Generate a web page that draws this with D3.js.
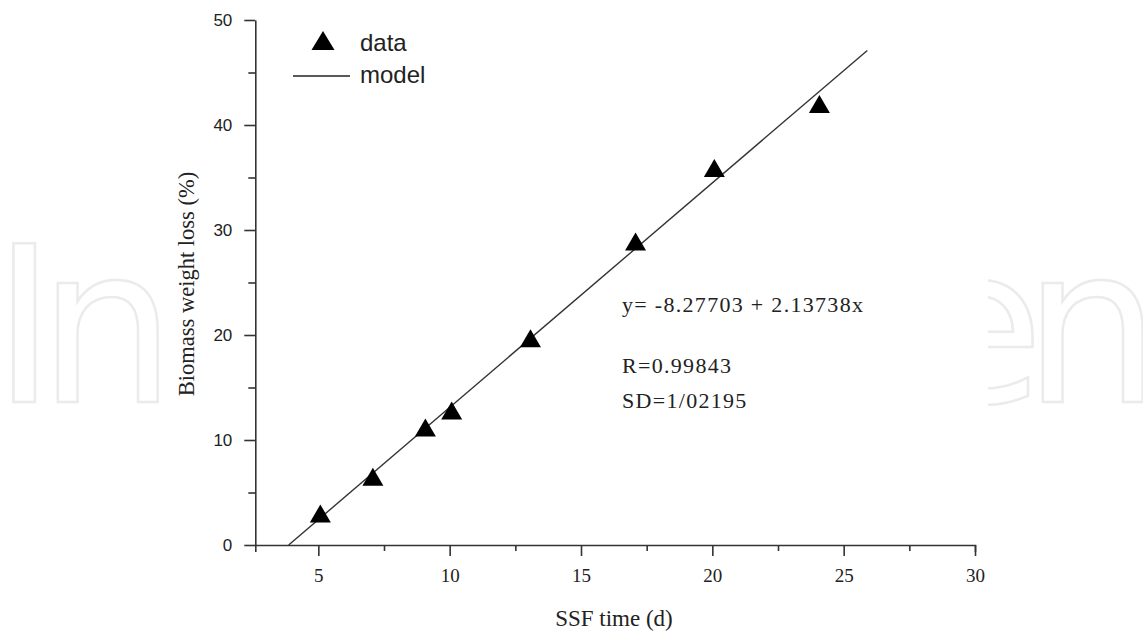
<!DOCTYPE html>
<html><head><meta charset="utf-8">
<script src="https://cdn.jsdelivr.net/npm/d3@7"></script>
<style>body{margin:0;background:#fff}</style>
</head><body><svg id="c" width="1143" height="638"></svg>
<script>
// ---- data ----
const days = [5, 7, 9, 10, 13, 17, 20, 24];
const weightLoss = [3.0, 6.5, 11.2, 12.8, 19.7, 28.9, 35.9, 42.0];
const modelDays = [3.87, 25.9];
const modelLoss = [0, 47.1];
const xMajorTicks = [5, 10, 15, 20, 25, 30];
const xMinorTicks = [7.5, 12.5, 17.5, 22.5, 27.5];
const yMajorTicks = [0, 10, 20, 30, 40, 50];
const yMinorTicks = [5, 15, 25, 35, 45];
const legendLabels = ["data", "model"];
const annotations = ["y= -8.27703 + 2.13738x", "R=0.99843", "SD=1/02195"];
const xTitle = "SSF time (d)";
const yTitle = "Biomass weight loss (%)";
const watermarkLeft = "In";
const watermarkRight = "en";

const svg = d3.select("#c");
svg.append("rect").attr("width", 1143).attr("height", 638).attr("fill", "#fff");

// ---- watermark (partly hidden behind the chart panel) ----
const wm = svg.append("g").attr("font-family", "DejaVu Sans").attr("font-weight", 400)
  .attr("font-size", 218).attr("fill", "none").attr("stroke", "#ebebeb").attr("stroke-width", 2.5);
wm.append("text").attr("x", "-8 38").attr("y", 402).text(watermarkLeft);
wm.append("text").attr("x", "910 1023").attr("y", 402).text(watermarkRight);
svg.append("rect").attr("x", 167).attr("y", 0).attr("width", 821).attr("height", 638).attr("fill", "#fff");

// ---- scales ----
const x = d3.scaleLinear().domain([2.6, 30]).range([255.3, 975]);
const y = d3.scaleLinear().domain([0, 50]).range([545, 20]);
const axisColor = "#333";

// x axis
const gx = svg.append("g").attr("transform", `translate(0,${y(0)})`)
  .call(d3.axisBottom(x).tickValues(xMajorTicks).tickSize(11).tickSizeOuter(7).tickPadding(12.5).tickFormat(d3.format("d")));
gx.append("g").call(d3.axisBottom(x).tickValues(xMinorTicks).tickSize(6).tickFormat(""))
  .select(".domain").remove();
gx.selectAll("path,line").attr("stroke", axisColor).attr("stroke-width", 1.6);
gx.selectAll("text").attr("font-family", "Liberation Serif, Times New Roman, serif").attr("font-size", 19).attr("fill", "#222");

// y axis
const gy = svg.append("g").attr("transform", `translate(${x(2.6)},0)`)
  .call(d3.axisLeft(y).tickValues(yMajorTicks).tickSize(11).tickSizeOuter(0).tickPadding(12).tickFormat(d3.format("d")));
gy.append("g").call(d3.axisLeft(y).tickValues(yMinorTicks).tickSize(7).tickFormat(""))
  .select(".domain").remove();
gy.selectAll("path,line").attr("stroke", axisColor).attr("stroke-width", 1.6);
gy.selectAll("text").attr("font-family", "Liberation Sans, Arial, sans-serif").attr("font-size", 17).attr("fill", "#222");

// ---- titles ----
svg.append("text").attr("x", 614).attr("y", 626).attr("text-anchor", "middle")
  .attr("font-family", "Liberation Serif, Times New Roman, serif").attr("font-size", 23).attr("fill", "#222").text(xTitle);
svg.append("text").attr("transform", "translate(194,284) rotate(-90)").attr("text-anchor", "middle")
  .attr("font-family", "Liberation Serif, Times New Roman, serif").attr("font-size", 22.5).attr("fill", "#222").text(yTitle);

// ---- model line ----
const modelPts = modelDays.map((d, i) => [d, modelLoss[i]]);
svg.append("path").datum(modelPts)
  .attr("d", d3.line().x(d => x(d[0])).y(d => y(d[1])))
  .attr("fill", "none").attr("stroke", "#333").attr("stroke-width", 1.4);

// ---- triangles ----
function tri(w, h) {
  const p = d3.path();
  p.moveTo(0, -h / 2); p.lineTo(w / 2, h / 2); p.lineTo(-w / 2, h / 2); p.closePath();
  return p.toString();
}
svg.append("g").selectAll("path").data(days.map((d, i) => [d, weightLoss[i]])).join("path")
  .attr("transform", d => `translate(${x(d[0]) + 2},${y(d[1])})`)
  .attr("d", tri(21, 18)).attr("fill", "#000");

// ---- legend ----
svg.append("path").attr("transform", "translate(323,40.5)").attr("d", tri(23, 19)).attr("fill", "#000");
svg.append("line").attr("x1", 293).attr("x2", 350).attr("y1", 76).attr("y2", 76).attr("stroke", "#222").attr("stroke-width", 1.6);
const lg = svg.append("g").attr("font-family", "Liberation Sans, Arial, sans-serif").attr("font-size", 24).attr("fill", "#222");
lg.append("text").attr("x", 360).attr("y", 51).text(legendLabels[0]);
lg.append("text").attr("x", 360).attr("y", 83).text(legendLabels[1]);

// ---- annotations ----
const an = svg.append("g").attr("font-family", "Liberation Serif, Times New Roman, serif").attr("font-size", 22)
  .attr("letter-spacing", 1.3).attr("fill", "#222");
an.append("text").attr("x", 622).attr("y", 312).text(annotations[0]);
an.append("text").attr("x", 622).attr("y", 373).text(annotations[1]);
an.append("text").attr("x", 622).attr("y", 408).text(annotations[2]);
</script></body></html>
